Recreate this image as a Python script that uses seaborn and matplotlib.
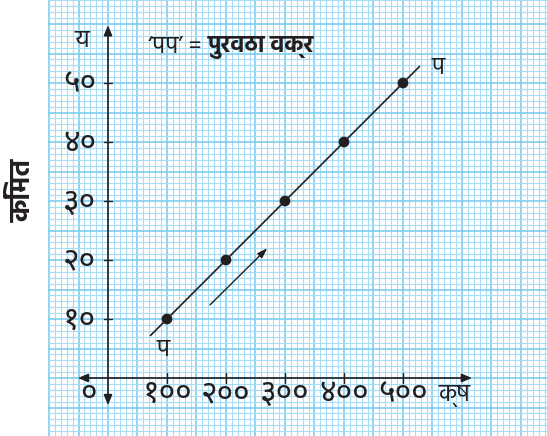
import matplotlib
matplotlib.use('Agg')
import matplotlib.pyplot as plt
import seaborn as sns
import pandas as pd
import numpy as np

# पुरवठा वक्र data
quantity = [100, 200, 300, 400, 500]
price = [10, 20, 30, 40, 50]
x_tick_labels = ['१००', '२००', '३००', '४००', '५००']
y_tick_labels = ['१०', '२०', '३०', '४०', '५०']
line_x = [72, 528]
line_y = [7.2, 52.8]

sns.set_style('white')
plt.rcParams['font.family'] = ['Hind', 'Noto Sans Devanagari', 'DejaVu Sans']
digits = ['Noto Sans Devanagari', 'DejaVu Sans']

ink = '#231f20'
fig = plt.figure(figsize=(5.47, 4.36), dpi=100)
ax = fig.add_axes([48 / 547, 0, 1 - 48 / 547, 1])

# 59 px per 100 units on x, 59 px per 10 units on y, origin at pixel (108, 378)
ax.set_xlim(-101.7, 744.1)
ax.set_ylim(-9.83, 64.07)

# graph paper
for v in np.arange(-100, 750, 10):
    major = (v % 50 == 0)
    ax.axvline(v, color='#7fcdf0' if major else '#a8ddf5', lw=1.2 if major else 0.8,
               zorder=0, snap=True)
for v in np.arange(-9, 65, 1):
    major = (v % 5 == 0)
    ax.axhline(v, color='#7fcdf0' if major else '#a8ddf5', lw=1.2 if major else 0.8,
               zorder=0, snap=True)

for s in ax.spines.values():
    s.set_visible(False)
ax.set_xticks([])
ax.set_yticks([])

# axes with arrows
arrow = dict(arrowstyle='-|>,head_length=0.6,head_width=0.25', color=ink, lw=1.2,
             shrinkA=0, shrinkB=0)
ax.annotate('', xy=(617, 0), xytext=(0, 0), arrowprops=arrow)
ax.annotate('', xy=(-51, 0), xytext=(0, 0), arrowprops=arrow)
ax.annotate('', xy=(0, 59.8), xytext=(0, 0), arrowprops=arrow)
ax.annotate('', xy=(0, -4.6), xytext=(0, 0), arrowprops=arrow)

# ticks
for q, lab in zip(quantity, x_tick_labels):
    ax.plot([q, q], [-0.85, 0.85], color=ink, lw=1.0)
    ax.text(q, -2.6, lab, ha='center', va='center', fontsize=23, color=ink, family=digits)
for p, lab in zip(price, y_tick_labels):
    ax.plot([-7, 7], [p, p], color=ink, lw=1.0)
    ax.text(-20, p - 0.2, lab, ha='right', va='center', fontsize=23, color=ink, family=digits)
ax.text(-33, -2.6, '०', ha='center', va='center', fontsize=23, color=ink, family=digits)

# supply curve
df = pd.DataFrame({'quantity': quantity, 'price': price})
sns.lineplot(x=line_x, y=line_y, color=ink, lw=1.2, ax=ax)
sns.scatterplot(data=df, x='quantity', y='price', color=ink, s=60,
                edgecolor='none', ax=ax, zorder=3)
ax.set_xlabel('')
ax.set_ylabel('')

# arrow along the curve
ax.annotate('', xy=(270, 22), xytext=(173, 12.4),
            arrowprops=dict(arrowstyle='-|>,head_length=0.6,head_width=0.2',
                            color=ink, lw=1.0, shrinkA=0, shrinkB=0))

# labels
ax.text(-44, 57.2, 'य', ha='center', va='center', fontsize=17, color=ink)
ax.text(588, -3.0, 'क्ष', ha='center', va='center', fontsize=17, color=ink)
ax.text(94, 4.7, 'प', ha='center', va='center', fontsize=17, color=ink)
ax.text(559, 52.5, 'प', ha='center', va='center', fontsize=17, color=ink)
t1 = ax.text(68, 56.1, '‘पप’ = ', ha='left', va='center', fontsize=17, color=ink)
fig.canvas.draw()
bb = t1.get_window_extent().transformed(ax.transData.inverted())
ax.text(bb.x1, 56.1, 'पुरवठा वक्र', ha='left', va='center', fontsize=17,
        fontweight='bold', color=ink)

fig.text(23 / 547, 1 - 190 / 436, 'किंमत', rotation=90, ha='center', va='center',
         fontsize=20, fontweight='bold', color=ink)

fig.savefig('out.png', dpi=100)
